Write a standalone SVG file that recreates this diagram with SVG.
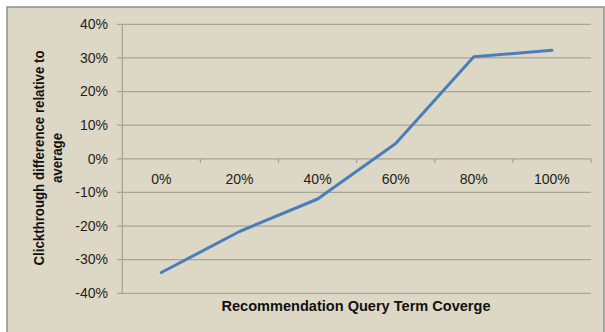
<svg xmlns="http://www.w3.org/2000/svg" width="605" height="332" viewBox="0 0 605 332">
<style>
.grid{stroke:#a8a497;stroke-width:1.3;fill:none}
.axis{stroke:#a8a497;stroke-width:1.3;fill:none}
.lbl{font-family:"Liberation Sans",Arial,sans-serif;font-size:14px;fill:#1e1e1e}
.ttl{font-family:"Liberation Sans",Arial,sans-serif;font-size:15px;font-weight:bold;fill:#111}
</style>
<rect x="0" y="0" width="605" height="332" fill="#ffffff"/>
<rect x="7" y="7" width="597" height="330" fill="#ddd8c6" stroke="#8e8e8e" stroke-width="1.5"/>
<g id="gridlines">
<line class="grid" x1="117" y1="24.3" x2="591" y2="24.3"/>
<line class="grid" x1="117" y1="57.9" x2="591" y2="57.9"/>
<line class="grid" x1="117" y1="91.6" x2="591" y2="91.6"/>
<line class="grid" x1="117" y1="125.2" x2="591" y2="125.2"/>
<line class="grid" x1="117" y1="192.4" x2="591" y2="192.4"/>
<line class="grid" x1="117" y1="226.1" x2="591" y2="226.1"/>
<line class="grid" x1="117" y1="259.7" x2="591" y2="259.7"/>
<line class="grid" x1="117" y1="293.3" x2="591" y2="293.3"/>
</g>
<g id="axes">
<line class="axis" x1="122.3" y1="24.3" x2="122.3" y2="293.3"/>
<line class="axis" x1="117" y1="158.8" x2="591" y2="158.8"/>
<line class="axis" x1="200.4" y1="158.8" x2="200.4" y2="163"/>
<line class="axis" x1="278.5" y1="158.8" x2="278.5" y2="163"/>
<line class="axis" x1="356.6" y1="158.8" x2="356.6" y2="163"/>
<line class="axis" x1="434.7" y1="158.8" x2="434.7" y2="163"/>
<line class="axis" x1="512.9" y1="158.8" x2="512.9" y2="163"/>
<line class="axis" x1="591" y1="158.8" x2="591" y2="163"/>
</g>
<g id="y-labels" class="lbl" text-anchor="end">
<text x="108" y="29">40%</text>
<text x="108" y="62.6">30%</text>
<text x="108" y="96.3">20%</text>
<text x="108" y="129.9">10%</text>
<text x="108" y="163.5">0%</text>
<text x="108" y="197.1">-10%</text>
<text x="108" y="230.8">-20%</text>
<text x="108" y="264.4">-30%</text>
<text x="108" y="298">-40%</text>
</g>
<g id="x-labels" class="lbl" text-anchor="middle">
<text x="161.4" y="184">0%</text>
<text x="239.5" y="184">20%</text>
<text x="317.6" y="184">40%</text>
<text x="395.7" y="184">60%</text>
<text x="473.8" y="184">80%</text>
<text x="551.9" y="184">100%</text>
</g>
<g id="series">
<polyline fill="none" stroke="#4a7ebb" stroke-width="3" stroke-linejoin="round" stroke-linecap="round" points="161.4,272.5 239.5,231.5 317.6,199 395.7,143.5 473.8,56.8 551.9,50.3"/>
</g>
<g id="titles">
<text class="ttl" x="356" y="311" text-anchor="middle" textLength="269" lengthAdjust="spacingAndGlyphs">Recommendation Query Term Coverge</text>
<text class="ttl" transform="translate(44,158) rotate(-90)" x="0" y="0" text-anchor="middle" textLength="215" lengthAdjust="spacingAndGlyphs">Clickthrough difference relative to</text>
<text class="ttl" transform="translate(62,158) rotate(-90)" x="0" y="0" text-anchor="middle" textLength="50" lengthAdjust="spacingAndGlyphs">average</text>
</g>
</svg>
